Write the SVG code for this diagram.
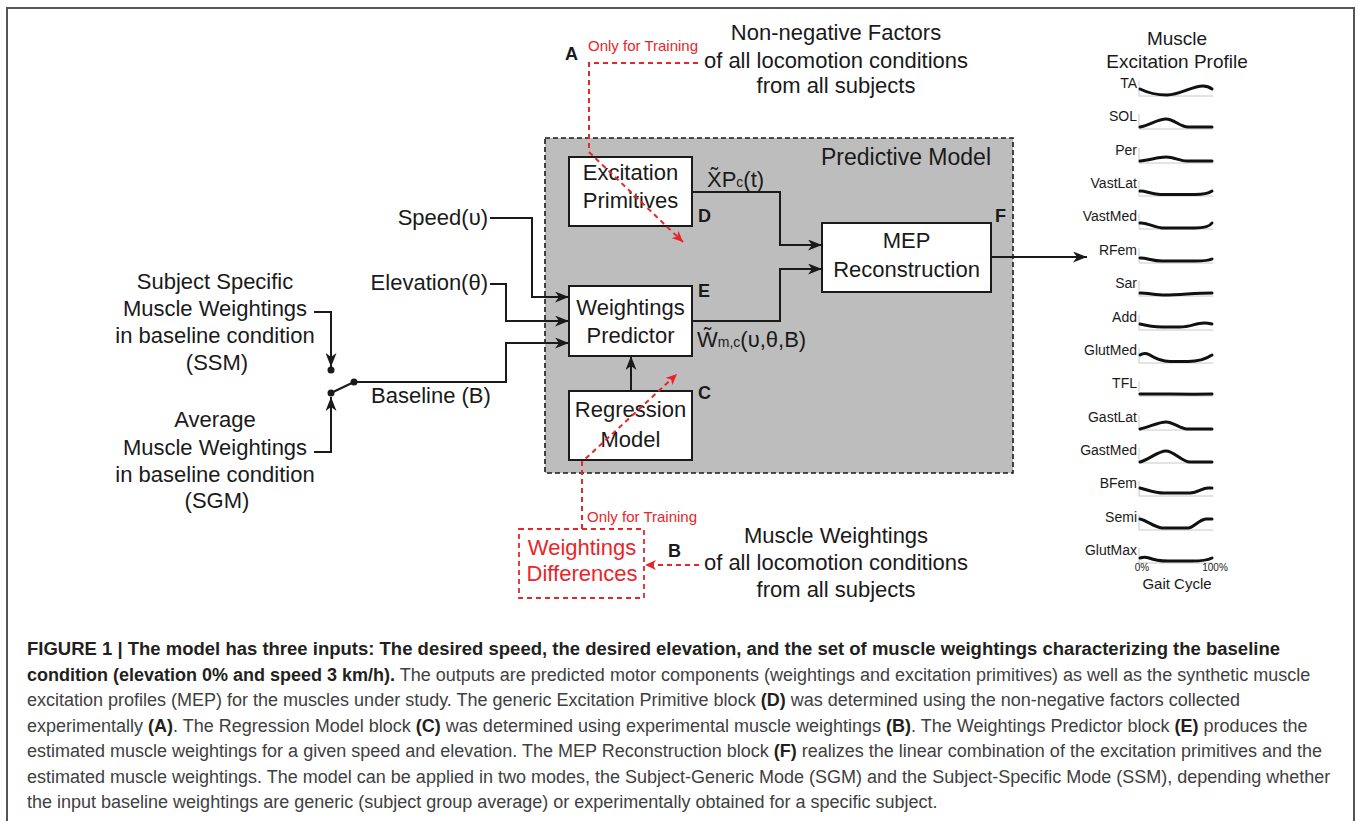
<svg xmlns="http://www.w3.org/2000/svg" width="1358" height="821" viewBox="0 0 1358 821">
<defs>
<style>
.t{font-family:"Liberation Sans",Arial,sans-serif;font-size:22px;fill:#1a1a1a}
.m{text-anchor:middle}
.lbl{font-family:"Liberation Sans",Arial,sans-serif;font-size:18px;font-weight:bold;fill:#1a1a1a}
.red{font-family:"Liberation Sans",Arial,sans-serif;font-size:15px;fill:#e8262a}
.redt{font-family:"Liberation Sans",Arial,sans-serif;font-size:22px;fill:#e8262a;text-anchor:middle}
.box{fill:#fff;stroke:#1a1a1a;stroke-width:2}
.con{fill:none;stroke:#1a1a1a;stroke-width:2}
.rcon{fill:none;stroke:#e8262a;stroke-width:2;stroke-dasharray:5 4}
.ax{fill:none;stroke:#c8c8c8;stroke-width:1}
.cv{fill:none;stroke:#111;stroke-width:3;stroke-linecap:round;stroke-linejoin:round}
.ml{font-family:"Liberation Sans",Arial,sans-serif;font-size:14px;fill:#1a1a1a;text-anchor:end}
.cap{font-family:"Liberation Sans",Arial,sans-serif;font-size:18px;fill:#404040}
.b{font-weight:bold;fill:#231f20}
</style>
<marker id="ar" markerUnits="userSpaceOnUse" markerWidth="15" markerHeight="11" refX="14" refY="5.5" orient="auto">
<path d="M0,0 L14,5.5 L0,11 L4,5.5 z" fill="#1a1a1a"/>
</marker>
<marker id="arr" markerUnits="userSpaceOnUse" markerWidth="12" markerHeight="10" refX="11" refY="5" orient="auto">
<path d="M0,0 L11,5 L0,10 L3,5 z" fill="#e8262a"/>
</marker>
</defs>
<rect width="1358" height="821" fill="#fff"/>
<path d="M7,821 V8 H1354 V821" fill="none" stroke="#555" stroke-width="2"/>

<g id="predictive-model">
<rect x="545" y="138" width="468" height="335" fill="#bdbdbd" stroke="#1a1a1a" stroke-width="1.6" stroke-dasharray="5 3"/>
<text class="t" x="906" y="165" style="font-size:23px" text-anchor="middle">Predictive Model</text>
</g>

<g id="inputs">
<text class="t" x="488" y="225" text-anchor="end">Speed(υ)</text>
<text class="t" x="488" y="290" text-anchor="end">Elevation(θ)</text>
<text class="t" x="371" y="403">Baseline (B)</text>
<g class="t m">
<text x="215" y="289">Subject Specific</text>
<text x="215" y="316">Muscle Weightings</text>
<text x="215" y="343">in baseline condition</text>
<text x="217" y="370">(SSM)</text>
<text x="215" y="427">Average</text>
<text x="215" y="455">Muscle Weightings</text>
<text x="215" y="482">in baseline condition</text>
<text x="217" y="508">(SGM)</text>
</g>
</g>

<g id="switch">
<circle cx="331" cy="370" r="3.5" fill="#1a1a1a"/>
<circle cx="331" cy="393" r="3.5" fill="#1a1a1a"/>
<circle cx="354" cy="382" r="3.5" fill="#1a1a1a"/>
</g>

<g id="excitation-primitives">
<rect class="box" x="569" y="157" width="123" height="69"/>
<text class="t m" x="630.5" y="180">Excitation</text>
<text class="t m" x="630.5" y="208">Primitives</text>
<text class="lbl" x="698" y="222">D</text>
</g>

<g id="weightings-predictor">
<rect class="box" x="569" y="286" width="123" height="70"/>
<text class="t m" x="630.5" y="315">Weightings</text>
<text class="t m" x="630.5" y="343">Predictor</text>
<text class="lbl" x="698" y="297">E</text>
</g>

<g id="regression-model">
<rect class="box" x="569" y="391" width="123" height="69"/>
<text class="t m" x="630.5" y="417">Regression</text>
<text class="t m" x="630.5" y="447">Model</text>
<text class="lbl" x="698" y="399">C</text>
</g>

<g id="mep-reconstruction">
<rect class="box" x="822" y="223" width="169" height="69"/>
<text class="t m" x="906.5" y="248">MEP</text>
<text class="t m" x="906.5" y="277">Reconstruction</text>
<text class="lbl" x="995" y="222">F</text>
</g>

<g id="signal-labels">
<text class="t" x="707" y="187">X̃P<tspan style="font-size:14px">c</tspan>(t)</text>
<text class="t" x="697" y="347">W̃<tspan style="font-size:14px">m,c</tspan>(υ,θ,B)</text>
</g>

<g id="factors-source">
<text class="lbl" x="565" y="60">A</text>
<text class="red" x="588" y="51">Only for Training</text>
<g class="t m">
<text x="836" y="40">Non-negative Factors</text>
<text x="836" y="68">of all locomotion conditions</text>
<text x="836" y="93">from all subjects</text>
</g>
</g>

<g id="weightings-source">
<text class="lbl" x="668" y="557">B</text>
<g class="t m">
<text x="836" y="543">Muscle Weightings</text>
<text x="836" y="570">of all locomotion conditions</text>
<text x="836" y="597">from all subjects</text>
</g>
</g>

<g id="weightings-differences">
<rect x="519" y="529" width="125" height="69" fill="none" stroke="#e8262a" stroke-width="1.8" stroke-dasharray="5 4"/>
<text class="redt" x="582" y="555">Weightings</text>
<text class="redt" x="582" y="581">Differences</text>
<text class="red" x="587" y="522">Only for Training</text>
</g>

<g id="connectors">
<path class="con" d="M490,218 H532 V297 H569" marker-end="url(#ar)"/>
<path class="con" d="M490,284 H506 V321 H569" marker-end="url(#ar)"/>
<path class="con" d="M354,382 H506 V343 H569" marker-end="url(#ar)"/>
<path class="con" d="M331,393 L354,382"/>
<path class="con" d="M314,312 H331 V367" marker-end="url(#ar)"/>
<path class="con" d="M314,452 H331 V397" marker-end="url(#ar)"/>
<path class="con" d="M692,192 H780 V245 H822" marker-end="url(#ar)"/>
<path class="con" d="M692,321 H780 V269 H822" marker-end="url(#ar)"/>
<path class="con" d="M631,391 V356" marker-end="url(#ar)"/>
<path class="con" d="M991,257 H1087" marker-end="url(#ar)"/>
<path class="rcon" d="M698,63 H589 V152 L683,242" marker-end="url(#arr)"/>
<path class="rcon" d="M582,529 V462 L677,374" marker-end="url(#arr)"/>
<path class="rcon" d="M699,565 H645" marker-end="url(#arr)"/>
</g>

<g id="muscle-excitation-profile">
<text class="t m" x="1177" y="45" style="font-size:19px">Muscle</text>
<text class="t m" x="1177" y="68" style="font-size:19px">Excitation Profile</text>
<g transform="translate(1140,96)"><path class="ax" d="M-1,-15 V0 H73"/><text class="ml" x="-3" y="-8">TA</text><path class="cv" d="M0,-7 C10,-2 18,-1 27,-1 C40,-1 52,-10 63,-10 C67,-10 70,-8.5 72,-7"/></g>
<g transform="translate(1140,129)"><path class="ax" d="M-1,-15 V0 H73"/><text class="ml" x="-3" y="-8">SOL</text><path class="cv" d="M0,-2 C10,-4 18,-10 26,-10 C34,-10 40,-2 48,-2 L72,-2"/></g>
<g transform="translate(1140,163)"><path class="ax" d="M-1,-15 V0 H73"/><text class="ml" x="-3" y="-8">Per</text><path class="cv" d="M0,-2 C10,-3 18,-6 26,-6 C34,-6 40,-2 47,-2 L72,-2"/></g>
<g transform="translate(1140,196)"><path class="ax" d="M-1,-15 V0 H73"/><text class="ml" x="-3" y="-8">VastLat</text><path class="cv" d="M0,-5 C5,-5.5 10,-2 20,-1.5 L55,-1.5 C64,-1.5 69,-3 72,-5"/></g>
<g transform="translate(1140,229)"><path class="ax" d="M-1,-15 V0 H73"/><text class="ml" x="-3" y="-8">VastMed</text><path class="cv" d="M0,-6 C6,-7 12,-2 22,-1 L55,-1 C64,-1 70,-3 72,-6"/></g>
<g transform="translate(1140,263)"><path class="ax" d="M-1,-15 V0 H73"/><text class="ml" x="-3" y="-8">RFem</text><path class="cv" d="M0,-5 C6,-5.5 12,-2 22,-2 L55,-2 C64,-2 70,-3 72,-4"/></g>
<g transform="translate(1140,296)"><path class="ax" d="M-1,-15 V0 H73"/><text class="ml" x="-3" y="-8">Sar</text><path class="cv" d="M0,-3 C8,-3 16,-1 25,-1 C40,-1 55,-3 72,-3"/></g>
<g transform="translate(1140,330)"><path class="ax" d="M-1,-15 V0 H73"/><text class="ml" x="-3" y="-8">Add</text><path class="cv" d="M0,-6 C8,-4 14,-3 22,-3 L40,-3 C50,-3 56,-7 64,-7 C68,-7 70,-6.5 72,-6"/></g>
<g transform="translate(1140,363)"><path class="ax" d="M-1,-15 V0 H73"/><text class="ml" x="-3" y="-8">GlutMed</text><path class="cv" d="M0,-8 C3,-10 6,-10 9,-8.5 C16,-4 22,-1.5 30,-1.5 L48,-1.5 C60,-1.5 66,-4 72,-8"/></g>
<g transform="translate(1140,396)"><path class="ax" d="M-1,-15 V0 H73"/><text class="ml" x="-3" y="-8">TFL</text><path class="cv" d="M0,-2 C20,-2.5 40,-1.5 72,-2"/></g>
<g transform="translate(1140,430)"><path class="ax" d="M-1,-15 V0 H73"/><text class="ml" x="-3" y="-8">GastLat</text><path class="cv" d="M0,-1 C10,-3 18,-8 26,-8 C34,-8 40,-1 47,-1 L72,-1"/></g>
<g transform="translate(1140,463)"><path class="ax" d="M-1,-15 V0 H73"/><text class="ml" x="-3" y="-8">GastMed</text><path class="cv" d="M0,-1 C10,-4 18,-12 26,-12 C34,-12 42,-1 50,-1 L72,-1"/></g>
<g transform="translate(1140,496)"><path class="ax" d="M-1,-15 V0 H73"/><text class="ml" x="-3" y="-8">BFem</text><path class="cv" d="M0,-8 C8,-6 15,-3 24,-3 L50,-3 C58,-3 62,-8 68,-8 L72,-8"/></g>
<g transform="translate(1140,530)"><path class="ax" d="M-1,-15 V0 H73"/><text class="ml" x="-3" y="-8">Semi</text><path class="cv" d="M0,-11 C8,-9 14,-3 22,-2 L48,-2 C54,-2 58,-10 66,-11 L72,-11"/></g>
<g transform="translate(1140,563)"><path class="ax" d="M-1,-15 V0 H73"/><text class="ml" x="-3" y="-8">GlutMax</text><path class="cv" d="M0,-5 C3,-6 6,-6 9,-5 C14,-3 20,-2 28,-2 L52,-2 C62,-2 68,-3 72,-5"/></g>
<text class="t m" x="1142" y="571" style="font-size:10px">0%</text>
<text class="t m" x="1215" y="571" style="font-size:10px">100%</text>
<text class="t m" x="1177" y="589" style="font-size:15px">Gait Cycle</text>
</g>

<g id="caption">
<text class="cap b" x="27" y="655" textLength="1253" lengthAdjust="spacingAndGlyphs">FIGURE 1 | The model has three inputs: The desired speed, the desired elevation, and the set of muscle weightings characterizing the baseline</text>
<text class="cap" x="27" y="681"><tspan class="b">condition (elevation 0% and speed 3 km/h).</tspan> The outputs are predicted motor components (weightings and excitation primitives) as well as the synthetic muscle</text>
<text class="cap" x="27" y="706">excitation profiles (MEP) for the muscles under study. The generic Excitation Primitive block <tspan class="b">(D)</tspan> was determined using the non-negative factors collected</text>
<text class="cap" x="27" y="732">experimentally <tspan class="b">(A)</tspan>. The Regression Model block <tspan class="b">(C)</tspan> was determined using experimental muscle weightings <tspan class="b">(B)</tspan>. The Weightings Predictor block <tspan class="b">(E)</tspan> produces the</text>
<text class="cap" x="27" y="757">estimated muscle weightings for a given speed and elevation. The MEP Reconstruction block <tspan class="b">(F)</tspan> realizes the linear combination of the excitation primitives and the</text>
<text class="cap" x="27" y="783">estimated muscle weightings. The model can be applied in two modes, the Subject-Generic Mode (SGM) and the Subject-Specific Mode (SSM), depending whether</text>
<text class="cap" x="27" y="808">the input baseline weightings are generic (subject group average) or experimentally obtained for a specific subject.</text>
</g>
</svg>
